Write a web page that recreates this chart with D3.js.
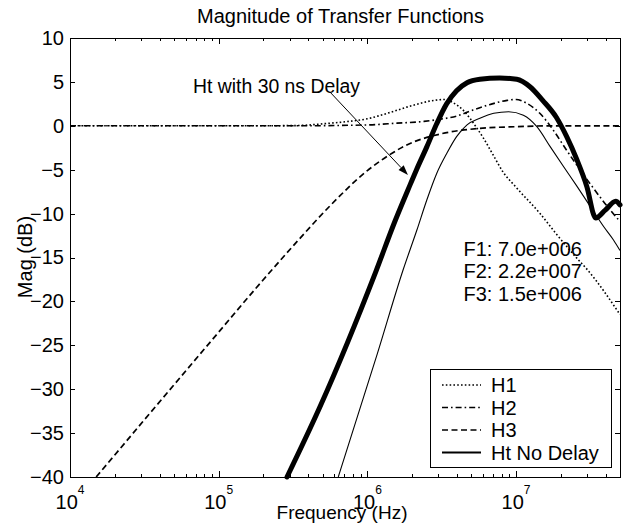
<!DOCTYPE html>
<html>
<head>
<meta charset="utf-8">
<script src="https://cdn.jsdelivr.net/npm/d3@7"></script>
<style>
  html, body { margin: 0; padding: 0; background: #fff; }
  svg { display: block; font-family: "Liberation Sans", Arial, sans-serif; }
</style>
</head>
<body>
<svg id="chart" width="628" height="532"></svg>
<script>
// ---------------- data ----------------
const title = "Magnitude of Transfer Functions";
const xLabel = "Frequency (Hz)";
const yLabel = "Mag (dB)";
const xDecades = [1e4, 1e5, 1e6, 1e7];
const xDecadeExp = ["4", "5", "6", "7"];
const yTicks = [10, 5, 0, -5, -10, -15, -20, -25, -30, -35, -40];

const h1Freq = [1e4, 1e5, 3.16e5, 5.62e5, 7.2e5, 1e6, 1.41e6, 2.0e6, 2.82e6, 3.31e6, 3.8e6, 4.27e6, 4.9e6, 5.37e6, 6.03e6, 7.0e6, 8.13e6, 1e7, 1.45e7, 1.86e7, 2.57e7, 3.02e7, 5.0e7];
const h1Mag  = [0, 0, 0.02, 0.3, 0.47, 0.8, 1.5, 2.3, 2.9, 3.0, 2.6, 2.0, 0.85, -0.1, -1.4, -3.3, -5.2, -7.0, -10.0, -12.3, -15.1, -16.4, -21.5];

const h2Freq = [1e4, 3.16e5, 1e6, 1.58e6, 2.4e6, 3.09e6, 3.98e6, 5.13e6, 6.61e6, 8.71e6, 1e7, 1.17e7, 1.45e7, 1.78e7, 2.19e7, 2.69e7, 3.31e7, 4.07e7, 5.0e7];
const h2Mag  = [0, 0, 0.1, 0.3, 0.5, 0.75, 1.1, 1.8, 2.4, 2.9, 3.0, 2.6, 1.4, -0.5, -2.8, -5.0, -7.1, -9.1, -10.9];

const h3Freq = [1.5e4, 3.16e4, 1e5, 1.78e5, 3.16e5, 5.62e5, 1e6, 1.41e6, 1.78e6, 3.16e6, 5.62e6, 1e7, 1.78e7, 5.0e7];
const h3Mag  = [-40, -33.5, -23.5, -18.5, -13.7, -9.1, -5.1, -3.3, -2.3, -0.9, -0.3, -0.1, 0, 0];

const htFreq = [6.37e5, 1.17e6, 1.74e6, 2.15e6, 2.51e6, 2.93e6, 3.43e6, 3.98e6, 4.68e6, 5.71e6, 7.08e6, 8.91e6, 1.12e7, 1.38e7, 1.70e7, 2.09e7, 2.57e7, 3.16e7, 3.89e7, 4.52e7, 5.0e7];
const htMag  = [-40, -25.9, -16.4, -11.9, -8.45, -5.4, -3.1, -1.24, 0.1, 0.85, 1.42, 1.6, 1.2, -0.1, -2.4, -4.66, -6.9, -9.2, -11.5, -13.0, -14.2];

const htDelayFreq = [2.88e5, 4.80e5, 1.14e6, 1.53e6, 1.94e6, 2.14e6, 2.51e6, 2.92e6, 3.41e6, 3.98e6, 4.68e6, 5.71e6, 7.76e6, 1.01e7, 1.24e7, 1.51e7, 1.86e7, 2.19e7, 2.57e7, 2.99e7, 3.43e7, 3.98e7, 4.68e7, 5.0e7];
const htDelayMag  = [-40, -32, -16.6, -10.9, -6.7, -5.0, -2.4, 0.2, 2.5, 4.0, 4.9, 5.3, 5.45, 5.3, 4.45, 2.9, 1.0, -1.24, -3.9, -6.9, -10.5, -9.6, -8.6, -9.0];

const legendLabels = ["H1", "H2", "H3", "Ht No Delay"];
const annotText = "Ht with 30 ns Delay";
const cornerLabels = ["F1: 7.0e+006", "F2: 2.2e+007", "F3: 1.5e+006"];

// ---------------- layout ----------------
const svg = d3.select("#chart");
const L = 70, R = 620, T = 38, B = 477;
const FONT = 20;

const x = d3.scaleLog().domain([1e4, 5e7]).range([L, R]);
const y = d3.scaleLinear().domain([-40, 10]).range([B, T]);

const styles = {
  h1: { dash: "1.6,2.2", width: 1.6, cap: "butt" },
  h2: { dash: "6,3,1.6,3", width: 1.6, cap: "butt" },
  h3: { dash: "6,3.5", width: 1.7, cap: "butt" },
  ht: { dash: null, width: 1.1, cap: "butt" },
  htd: { dash: null, width: 5, cap: "round" }
};

// minor ticks
const minorTicks = [];
for (let d = 1e4; d < 5e7; d *= 10) {
  for (let m = 2; m <= 9; m++) {
    const v = d * m;
    if (v <= 5e7) minorTicks.push(v);
  }
}

const axesG = svg.append("g").attr("shape-rendering", "crispEdges");

// bottom/top major + minor ticks (inward)
axesG.append("g").attr("transform", `translate(0,${B})`)
  .call(d3.axisBottom(x).tickValues(xDecades).tickSize(-6).tickFormat(""))
  .call(g => g.select(".domain").remove());
axesG.append("g").attr("transform", `translate(0,${B})`)
  .call(d3.axisBottom(x).tickValues(minorTicks).tickSize(-3).tickFormat(""))
  .call(g => g.select(".domain").remove());
axesG.append("g").attr("transform", `translate(0,${T})`)
  .call(d3.axisTop(x).tickValues(xDecades).tickSize(-6).tickFormat(""))
  .call(g => g.select(".domain").remove());
axesG.append("g").attr("transform", `translate(0,${T})`)
  .call(d3.axisTop(x).tickValues(minorTicks).tickSize(-3).tickFormat(""))
  .call(g => g.select(".domain").remove());

// left axis with labels, right ticks
const leftAx = axesG.append("g").attr("transform", `translate(${L},0)`)
  .call(d3.axisLeft(y).tickValues(yTicks).tickSize(-5).tickPadding(6).tickFormat(d3.format("d")))
  .call(g => g.select(".domain").remove());
leftAx.selectAll("text").attr("font-size", FONT).attr("fill", "#000")
  .attr("font-family", "Liberation Sans, Arial, sans-serif");
axesG.append("g").attr("transform", `translate(${R},0)`)
  .call(d3.axisRight(y).tickValues(yTicks).tickSize(-5).tickFormat(""))
  .call(g => g.select(".domain").remove());
axesG.selectAll(".tick line").attr("stroke", "#000");

// box
axesG.append("rect").attr("x", L).attr("y", T).attr("width", R - L).attr("height", B - T)
  .attr("fill", "none").attr("stroke", "#000").attr("stroke-width", 1);

// x tick labels with superscript
const xl = svg.append("g").attr("font-size", FONT).attr("fill", "#000");
xDecades.forEach((v, i) => {
  const t = xl.append("text").attr("x", x(v)).attr("y", 509).attr("text-anchor", "middle");
  t.append("tspan").text("10");
  t.append("tspan").attr("dy", -15.5).attr("font-size", 12).text(xDecadeExp[i]);
});

// title & axis labels
svg.append("text").attr("x", 340.5).attr("y", 23).attr("text-anchor", "middle")
  .attr("font-size", FONT).text(title);
svg.append("text").attr("x", 342).attr("y", 519).attr("text-anchor", "middle")
  .attr("font-size", 19).text(xLabel);
svg.append("text").attr("transform", "translate(32,257) rotate(-90)").attr("text-anchor", "middle")
  .attr("font-size", FONT).text(yLabel);

// curves
const line = d3.line().x(d => x(d[0])).y(d => y(d[1])).curve(d3.curveMonotoneX);
function drawSeries(freq, mag, st) {
  const data = freq.map((f, i) => [f, mag[i]]);
  const p = svg.append("path").datum(data).attr("d", line)
    .attr("fill", "none").attr("stroke", "#000")
    .attr("stroke-width", st.width).attr("stroke-linecap", st.cap)
    .attr("stroke-linejoin", "round");
  if (st.dash) p.attr("stroke-dasharray", st.dash);
}
drawSeries(h3Freq, h3Mag, styles.h3);
drawSeries(h2Freq, h2Mag, styles.h2);
drawSeries(h1Freq, h1Mag, styles.h1);
drawSeries(htFreq, htMag, styles.ht);
drawSeries(htDelayFreq, htDelayMag, styles.htd);

// annotation with arrow
const arrowStart = [5.6e5, 3.85];
const arrowTip = [1.875e6, -5.6];
const ax0 = x(arrowStart[0]), ay0 = y(arrowStart[1]);
const ax1 = x(arrowTip[0]), ay1 = y(arrowTip[1]);
const ang = Math.atan2(ay1 - ay0, ax1 - ax0);
const hl = 10, hw = 3.5;
const bx = ax1 - hl * Math.cos(ang), by = ay1 - hl * Math.sin(ang);
svg.append("line").attr("x1", ax0).attr("y1", ay0).attr("x2", bx).attr("y2", by)
  .attr("stroke", "#000").attr("stroke-width", 1);
svg.append("path")
  .attr("d", `M${ax1},${ay1}L${bx + hw * Math.sin(ang)},${by - hw * Math.cos(ang)}L${bx - hw * Math.sin(ang)},${by + hw * Math.cos(ang)}Z`)
  .attr("fill", "#000");
svg.append("text").attr("x", 193).attr("y", 93).attr("font-size", FONT)
  .attr("textLength", 167).attr("lengthAdjust", "spacingAndGlyphs").text(annotText);

// F labels
cornerLabels.forEach((s, i) => {
  svg.append("text").attr("x", 463.5).attr("y", 256 + i * 22.3).attr("font-size", FONT).text(s);
});

// legend
const lg = svg.append("g");
lg.append("rect").attr("x", 430.5).attr("y", 369.5).attr("width", 181).attr("height", 98)
  .attr("fill", "#fff").attr("stroke", "#000").attr("stroke-width", 1);
const legStyles = [styles.h1, styles.h2, styles.h3, { dash: null, width: 2, cap: "butt" }];
const rowY = [385, 407.5, 430, 452.5];
legendLabels.forEach((lab, i) => {
  const st = legStyles[i];
  const ln = lg.append("line").attr("x1", 442).attr("x2", 481).attr("y1", rowY[i]).attr("y2", rowY[i])
    .attr("stroke", "#000").attr("stroke-width", st.width);
  if (st.dash) ln.attr("stroke-dasharray", st.dash);
  lg.append("text").attr("x", 491).attr("y", rowY[i] + 7).attr("font-size", FONT).text(lab);
});
</script>
</body>
</html>
